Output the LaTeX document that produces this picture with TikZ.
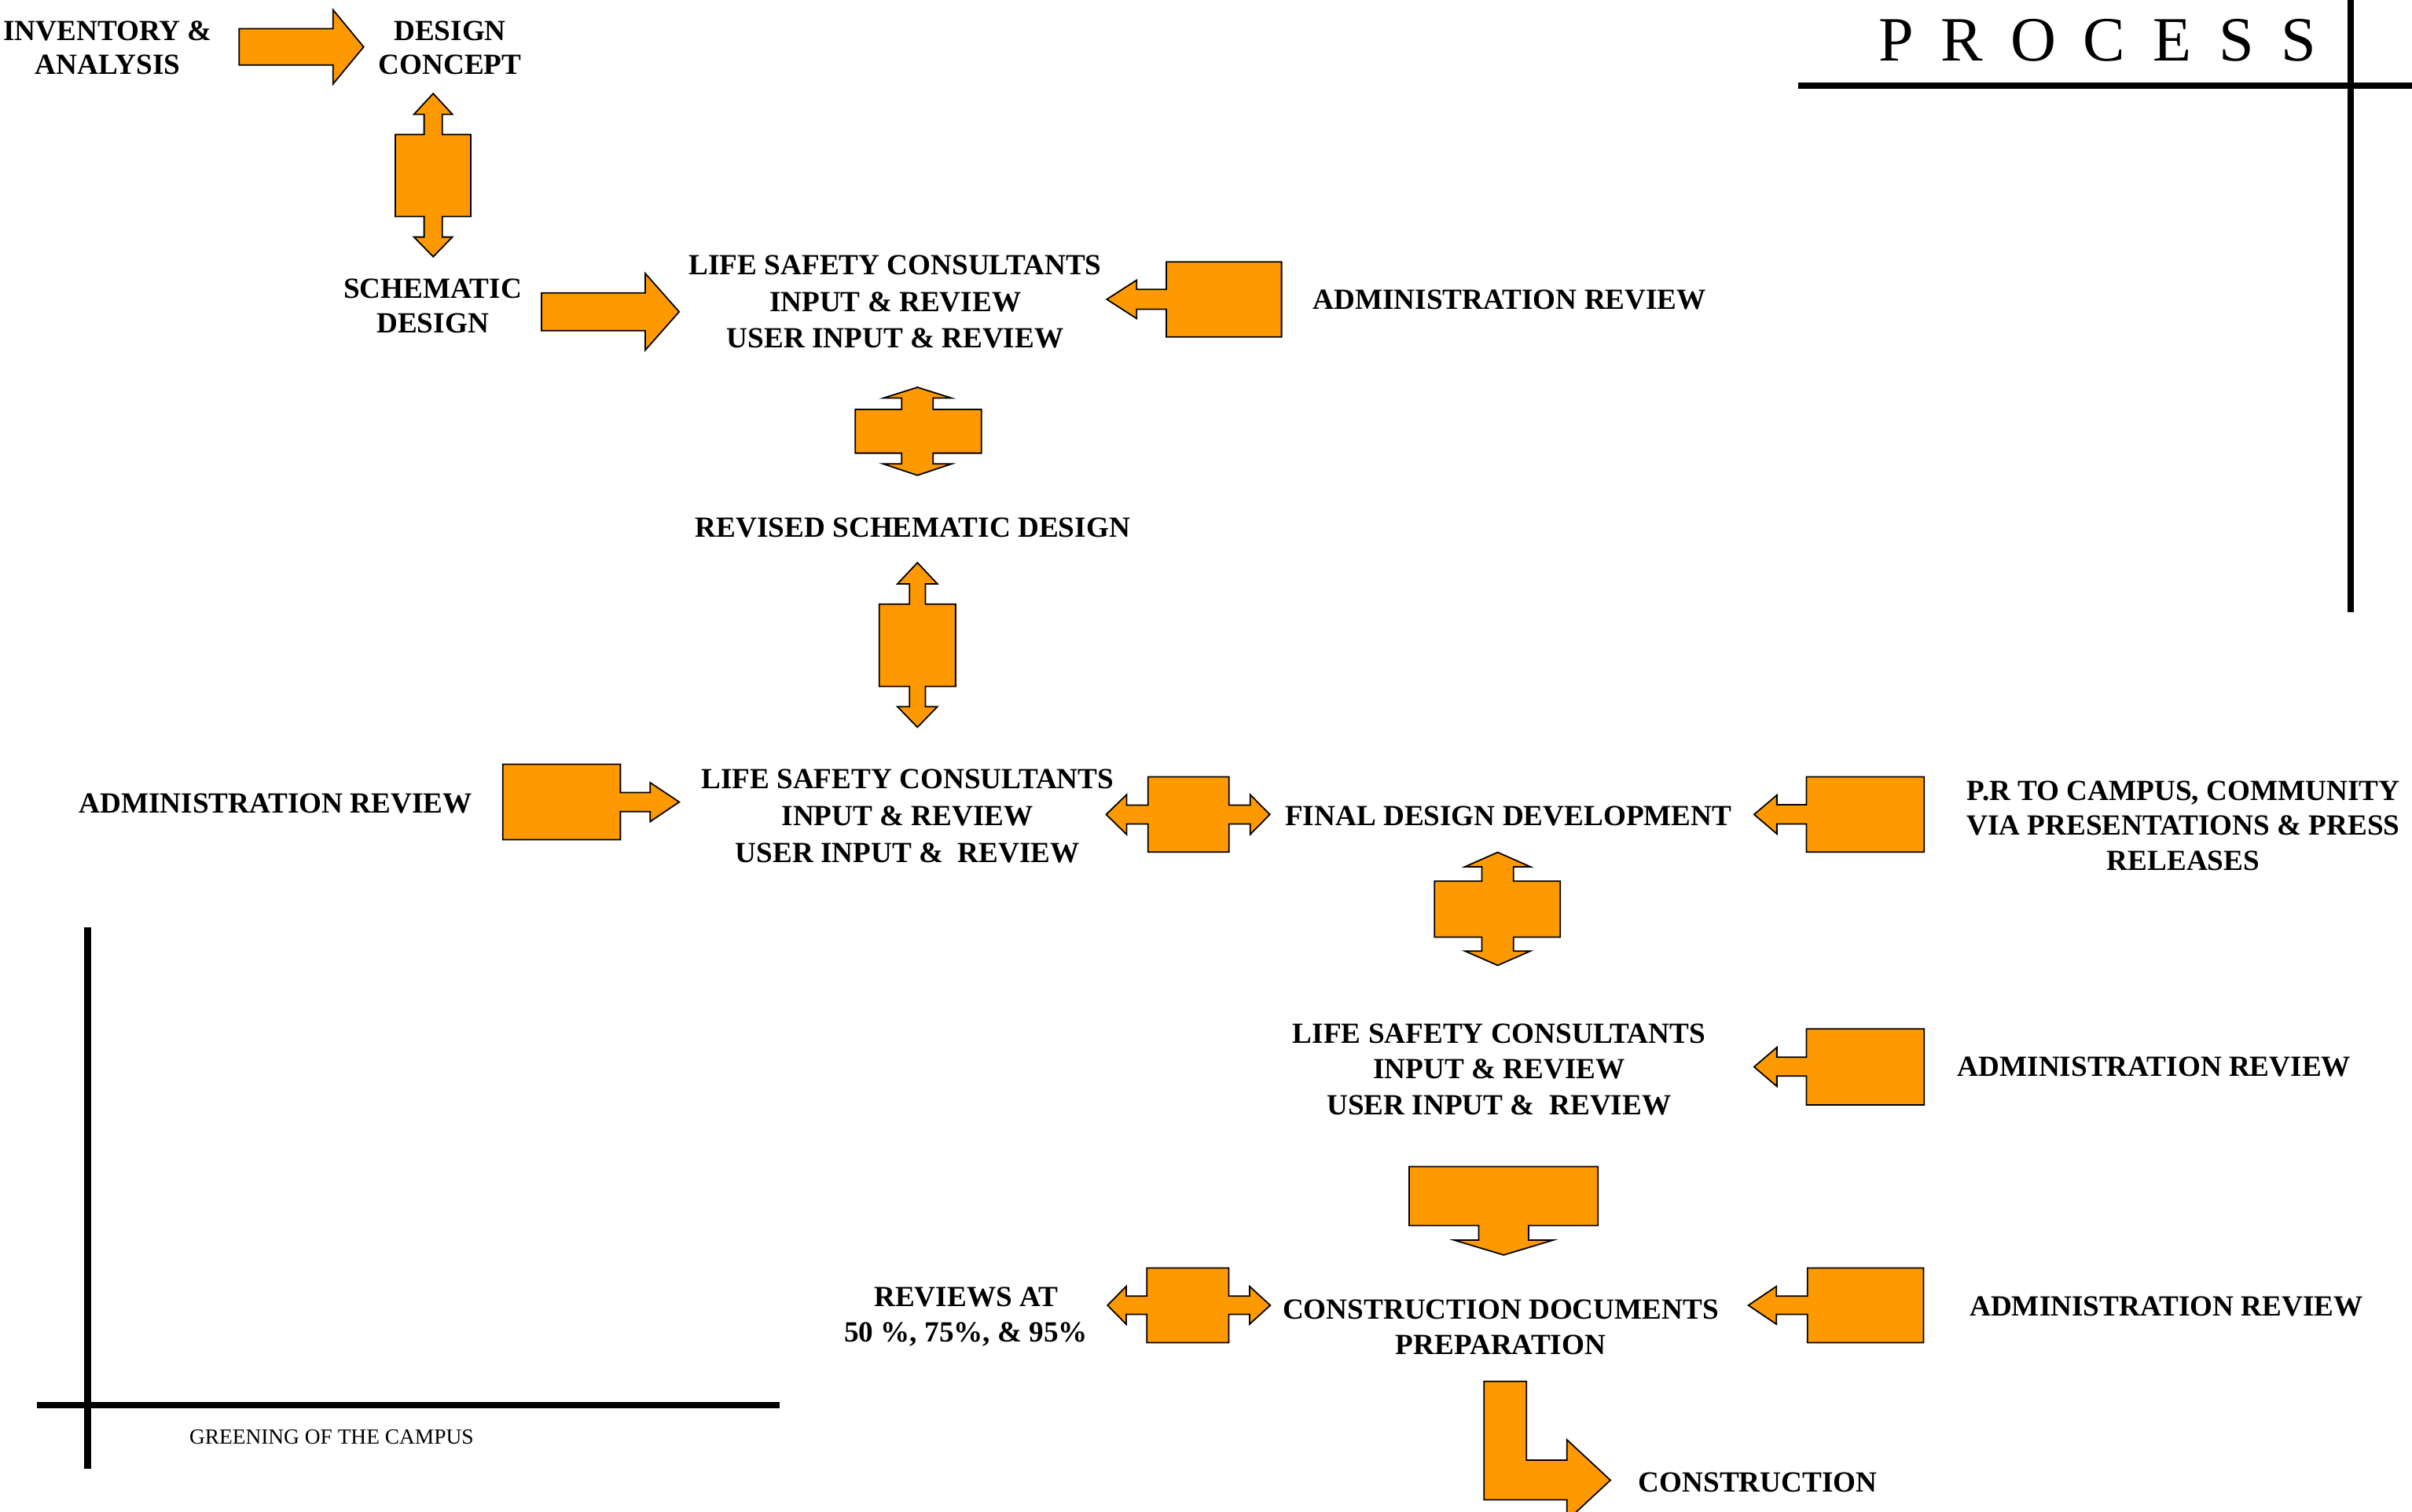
\documentclass[tikz,border=0pt]{standalone}
\usepackage{fontspec}
\setmainfont{Liberation Serif}
\definecolor{orng}{RGB}{255,153,0}
\begin{document}
\begin{tikzpicture}[x=1pt,y=-1pt,
  lbl/.style={font=\bfseries\fontsize{19}{23.2}\selectfont, align=center, inner sep=0pt},
  blk/.style={fill=orng, draw=black, line width=0.9pt, line join=miter},
  rule/.style={draw=black, line width=4.2pt}]
\useasboundingbox (0,0) rectangle (1568,982.5);
\begin{scope}
\clip (0,0) rectangle (1568,982.5);
% frame rules
\draw[rule] (1169,55.7) -- (1568,55.7);
\draw[rule] (1528,0) -- (1528,398);
\draw[rule] (57,603) -- (57,955);
\draw[rule] (24,913.5) -- (507,913.5);

% block arrows
% A: inventory -> design concept
\draw[blk] (155.5,18.7) -- (216.5,18.7) -- (216.5,6.4) -- (236.4,30.5) -- (216.5,54.6) -- (216.5,42.3) -- (155.5,42.3) -- cycle;
% B: design concept <-> schematic design
\draw[blk] (281.6,60.8) -- (294.1,74.3) -- (287.5,74.3) -- (287.5,87.5) -- (306,87.5) -- (306,140.7) -- (287.5,140.7) -- (287.5,154.1) -- (294.1,154.1) -- (281.6,166.9) -- (269.1,154.1) -- (275.7,154.1) -- (275.7,140.7) -- (257,140.7) -- (257,87.5) -- (275.7,87.5) -- (275.7,74.3) -- (269.1,74.3) -- cycle;
% C: schematic -> life safety
\draw[blk] (352,190.4) -- (419.5,190.4) -- (419.5,177.8) -- (441.5,202.7) -- (419.5,227.6) -- (419.5,215) -- (352,215) -- cycle;
% D: administration review -> life safety 1
\draw[blk] (833.1,170.2) -- (833.1,219) -- (758.2,219) -- (758.2,201) -- (738.9,201) -- (738.9,207.1) -- (719.5,194.6) -- (738.9,182.1) -- (738.9,188.2) -- (758.2,188.2) -- (758.2,170.2) -- cycle;
% E: life safety 1 <-> revised
\draw[blk] (596.4,251.8) -- (618.6,258.8) -- (606.6,258.8) -- (606.6,266.2) -- (638,266.2) -- (638,294.6) -- (606.6,294.6) -- (606.6,301.6) -- (618.6,301.6) -- (596.4,309) -- (574.2,301.6) -- (586.2,301.6) -- (586.2,294.6) -- (556,294.6) -- (556,266.2) -- (586.2,266.2) -- (586.2,258.8) -- (574.2,258.8) -- cycle;
% F: revised <-> life safety 2
\draw[blk] (596.4,365.8) -- (609.4,379.6) -- (601.6,379.6) -- (601.6,392.7) -- (621.2,392.7) -- (621.2,446.3) -- (601.6,446.3) -- (601.6,459.4) -- (609.4,459.4) -- (596.4,472.8) -- (583.4,459.4) -- (591.2,459.4) -- (591.2,446.3) -- (571.6,446.3) -- (571.6,392.7) -- (591.2,392.7) -- (591.2,379.6) -- (583.4,379.6) -- cycle;
% G: administration review -> life safety 2
\draw[blk] (326.9,496.8) -- (403.3,496.8) -- (403.3,515.2) -- (422.7,515.2) -- (422.7,508.8) -- (441.6,521.4) -- (422.7,534.1) -- (422.7,527.7) -- (403.3,527.7) -- (403.3,545.9) -- (326.9,545.9) -- cycle;
% H: life safety 2 <-> final design
\draw[blk] (746.3,505) -- (798.9,505) -- (798.9,523.4) -- (812.7,523.4) -- (812.7,516.6) -- (825.5,529.5) -- (812.7,542.5) -- (812.7,535.7) -- (798.9,535.7) -- (798.9,554) -- (746.3,554) -- (746.3,535.7) -- (732.4,535.7) -- (732.4,542.5) -- (719.1,529.5) -- (732.4,516.6) -- (732.4,523.4) -- (746.3,523.4) -- cycle;
% I: P.R -> final design
\draw[blk] (1250.8,505) -- (1250.8,554) -- (1174.3,554) -- (1174.3,535.7) -- (1155.1,535.7) -- (1155.1,542.1) -- (1140.3,529.5) -- (1155.1,516.9) -- (1155.1,523.2) -- (1174.3,523.2) -- (1174.3,505) -- cycle;
% J: final design <-> life safety 3
\draw[blk] (973.6,554.1) -- (994.9,563.5) -- (983.9,563.5) -- (983.9,572.8) -- (1014.3,572.8) -- (1014.3,609.3) -- (983.9,609.3) -- (983.9,618.3) -- (994.9,618.3) -- (973.6,627.6) -- (952.3,618.3) -- (963.3,618.3) -- (963.3,609.3) -- (932.5,609.3) -- (932.5,572.8) -- (963.3,572.8) -- (963.3,563.5) -- (952.3,563.5) -- cycle;
% K: administration review -> life safety 3
\draw[blk] (1250.8,668.9) -- (1250.8,718.3) -- (1174.3,718.3) -- (1174.3,699.5) -- (1155.1,699.5) -- (1155.1,706.3) -- (1140.3,693.6) -- (1155.1,680.9) -- (1155.1,687.3) -- (1174.3,687.3) -- (1174.3,668.9) -- cycle;
% L: life safety 3 -> construction documents
\draw[blk] (916.1,758.5) -- (1038.8,758.5) -- (1038.8,796.8) -- (993.7,796.8) -- (993.7,806.2) -- (1009.8,806.2) -- (977.5,815.9) -- (945.2,806.2) -- (961.3,806.2) -- (961.3,796.8) -- (916.1,796.8) -- cycle;
% M: reviews <-> construction documents
\draw[blk] (745.6,824.4) -- (798.8,824.4) -- (798.8,842.6) -- (812.3,842.6) -- (812.3,836.3) -- (825.8,848.6) -- (812.3,860.9) -- (812.3,854.5) -- (798.8,854.5) -- (798.8,872.9) -- (745.6,872.9) -- (745.6,854.5) -- (732.1,854.5) -- (732.1,860.9) -- (720,848.6) -- (732.1,836.3) -- (732.1,842.6) -- (745.6,842.6) -- cycle;
% N: administration review -> construction documents
\draw[blk] (1250.5,824.4) -- (1250.5,872.9) -- (1175,872.9) -- (1175,854.5) -- (1154.8,854.5) -- (1154.8,860.9) -- (1136.6,848.6) -- (1154.8,836.3) -- (1154.8,842.6) -- (1175,842.6) -- (1175,824.4) -- cycle;
% O: construction documents -> construction (bent)
\draw[blk] (964.7,898) -- (992.3,898) -- (992.3,949.3) -- (1018.6,949.3) -- (1018.6,936) -- (1046.9,962.3) -- (1018.6,988.6) -- (1018.6,975.1) -- (964.7,975.1) -- cycle;
\end{scope}

% labels
\node[lbl, font=\bfseries\fontsize{19}{22.1}\selectfont] (inv) at (70,31) {INVENTORY \&\\ANALYSIS};
\node[lbl, font=\bfseries\fontsize{19}{22.1}\selectfont] (dc) at (292.5,31) {DESIGN\\CONCEPT};
\node[lbl, font=\bfseries\fontsize{19}{22.2}\selectfont] (sd) at (281.3,198.9) {SCHEMATIC\\DESIGN};
\node[lbl, font=\bfseries\fontsize{19}{23.8}\selectfont] (ls1) at (582,196.2) {LIFE SAFETY CONSULTANTS\\INPUT \& REVIEW\\USER INPUT \& REVIEW};
\node[lbl] (adm1) at (981.4,195) {ADMINISTRATION REVIEW};
\node[lbl] (rsd) at (593.4,342.9) {REVISED SCHEMATIC DESIGN};
\node[lbl] (adm2) at (179.2,522.5) {ADMINISTRATION REVIEW};
\node[lbl, font=\bfseries\fontsize{19}{24.2}\selectfont] (ls2) at (590,530.5) {LIFE SAFETY CONSULTANTS\\INPUT \& REVIEW\\USER INPUT \&\ \ REVIEW};
\node[lbl] (fdd) at (980.6,530.7) {FINAL DESIGN DEVELOPMENT};
\node[lbl, font=\bfseries\fontsize{19}{22.8}\selectfont] (pr) at (1419.3,536.8) {P.R TO CAMPUS, COMMUNITY\\VIA PRESENTATIONS \& PRESS\\RELEASES};
\node[lbl] (ls3) at (974.5,695.2) {LIFE SAFETY CONSULTANTS\\INPUT \& REVIEW\\USER INPUT \&\ \ REVIEW};
\node[lbl] (adm3) at (1400.4,693.7) {ADMINISTRATION REVIEW};
\node[lbl, font=\bfseries\fontsize{19}{22.7}\selectfont] (rev) at (628,856) {REVIEWS AT\\50 \%, 75\%, \& 95\%};
\node[lbl, font=\bfseries\fontsize{19}{23}\selectfont] (cdp) at (975.6,863) {CONSTRUCTION DOCUMENTS\\PREPARATION};
\node[lbl] (adm4) at (1408.3,849.3) {ADMINISTRATION REVIEW};
\node[lbl] (cons) at (1142.7,963.9) {CONSTRUCTION};
\node[inner sep=0pt, font=\fontsize{14}{14}\selectfont] (green) at (215.5,934) {GREENING OF THE CAMPUS};
\node[inner sep=0pt, anchor=base, font=\fontsize{41}{41}\selectfont] (title) at (1363.5,39.5) {P\hspace{17.8pt}R\hspace{17.8pt}O\hspace{17.8pt}C\hspace{17.8pt}E\hspace{17.8pt}S\hspace{17.8pt}S};
\end{tikzpicture}
\end{document}
